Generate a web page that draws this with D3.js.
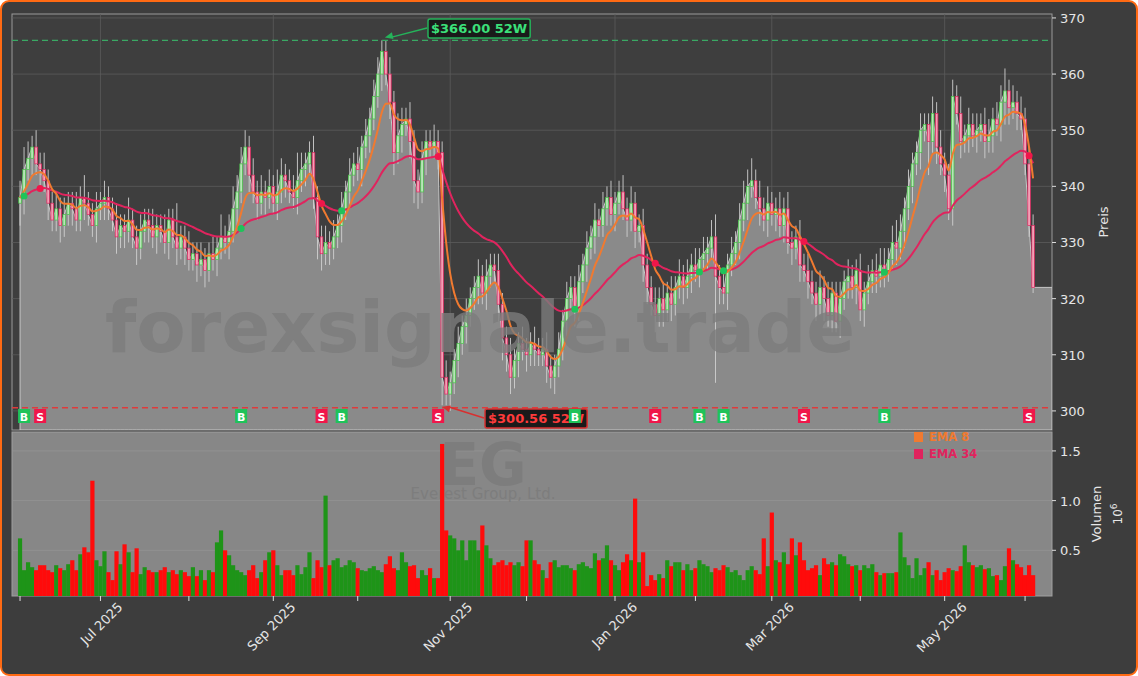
<!DOCTYPE html>
<html><head><meta charset="utf-8">
<script src="https://cdn.jsdelivr.net/npm/d3@7"></script>
<style>
body{margin:0;background:#fff;font-family:"DejaVu Sans",sans-serif;}
svg{display:block;}
</style></head>
<body>
<script>
const width = 1138, height = 676;

// daily closes, Jun 2 2025 .. end of May 2026
const closes = [338,343,345,347,344,343,341,337,334,336,333,335,337,336,334,338,337,335,333,336,337,
338,336,334,331,333,332,334,331,329,332,334,333,331,333,332,330,334,331,329,331,
329,327,328,326,327,325,328,327,329,331,330,332,336,339,344,347,342,339,337,339,
338,340,337,339,342,341,339,338,341,343,344,346,338,331,328,330,329,331,333,336,
339,342,344,343,347,349,352,356,360,364,360,355,346,349,351,352,348,341,339,345,
348,347,348,346,306,303,305,309,312,315,317,320,322,324,321,324,326,325,319,313,
310,306,309,312,311,310,312,311,310,311,308,306,308,311,316,320,322,318,323,326,
329,331,334,333,336,338,335,337,339,336,334,337,332,333,326,322,319,317,320,318,
321,319,322,324,322,324,326,325,327,328,329,331,324,322,321,326,328,330,334,337,
340,341,338,336,334,337,335,336,333,336,330,329,331,326,325,323,321,319,322,320,
317,321,316,320,323,324,322,325,318,321,323,325,324,326,325,327,330,329,332,336,
340,344,346,350,351,348,353,347,344,342,336,356,353,348,349,351,349,350,351,348,
349,352,351,355,357,354,355,353,352,344,333,322];
// wick extension above / below the candle body
const wickUp = [3,4,3,2,3,2,3,2,2,3,2,3,2,2,3,2,4,2,2,3,2,3,2,2,3,2,2,4,2,2,3,2,2,3,2,2,3,2,2,6,2,
2,3,2,2,3,2,2,3,2,4,2,3,4,3,3,3,2,3,2,3,2,3,2,4,3,2,2,3,5,3,2,2,3,2,2,3,2,3,2,3,
2,3,2,3,2,3,2,3,3,2,2,3,2,4,3,2,3,2,2,3,2,2,3,2,2,3,2,2,3,2,3,2,2,3,2,3,2,2,3,2,
2,3,2,2,3,2,2,3,2,2,3,2,2,3,2,3,2,2,3,2,3,2,3,2,3,2,3,2,2,3,2,3,2,2,3,2,2,3,2,3,
2,3,2,3,2,3,2,3,2,3,2,3,4,2,3,2,3,2,3,4,3,4,2,3,2,3,2,2,3,2,3,2,2,3,2,3,2,2,3,2,
3,2,2,3,2,3,2,2,3,2,3,2,3,3,3,2,3,4,3,2,3,2,2,3,2,2,3,2,3,2,2,3,2,3,2,3,2,3,2,
3,3,2,3,3,4,2,3,2,3,2,3,2];
const wickDn = [4,3,2,3,2,3,2,3,2,2,3,2,2,3,2,2,3,2,2,3,2,3,2,2,3,2,3,2,2,3,2,2,3,2,3,2,2,3,2,3,2,
3,2,2,3,2,3,2,2,3,2,2,3,2,3,2,2,3,2,3,2,3,2,2,3,2,3,2,2,3,2,3,2,2,4,3,2,3,2,2,3,
2,3,2,2,3,2,3,2,2,3,2,3,4,2,3,2,3,4,3,2,3,2,2,3,5,2,3,2,3,2,3,2,2,3,2,3,2,2,3,4,
3,3,2,3,2,3,2,3,2,2,3,2,3,2,2,3,2,3,2,2,3,2,3,2,2,3,2,3,2,2,3,2,3,2,3,3,2,3,2,3,
2,3,2,2,3,2,3,2,3,2,3,2,19,3,2,3,2,2,3,2,3,2,2,3,2,3,2,3,2,3,2,3,2,3,2,3,2,3,2,4,
2,3,2,3,2,3,2,3,2,3,2,2,3,2,3,2,2,3,2,3,2,3,2,3,2,6,2,3,2,3,2,3,2,3,2,3,2,3,2,
3,2,3,2,3,4,3,2,3,2,2,2,1];
// volume in millions
const volumes = [0.62,0.30,0.38,0.33,0.30,0.35,0.35,0.30,0.28,0.35,0.32,0.30,0.36,0.40,0.30,0.46,0.53,0.48,1.20,0.40,0.34,
0.49,0.28,0.20,0.49,0.36,0.56,0.48,0.28,0.52,0.26,0.33,0.30,0.28,0.28,0.30,0.33,0.28,0.30,0.26,0.30,
0.28,0.24,0.33,0.24,0.30,0.20,0.30,0.28,0.58,0.70,0.50,0.45,0.35,0.30,0.28,0.25,0.30,0.35,0.22,0.28,
0.40,0.48,0.50,0.35,0.25,0.30,0.30,0.25,0.35,0.26,0.33,0.48,0.22,0.40,0.33,1.05,0.35,0.40,0.42,0.33,
0.35,0.40,0.38,0.32,0.30,0.29,0.32,0.34,0.30,0.28,0.36,0.44,0.32,0.30,0.48,0.38,0.34,0.35,0.22,0.30,
0.25,0.32,0.22,0.22,1.57,0.70,0.65,0.62,0.50,0.60,0.40,0.60,0.60,0.50,0.75,0.55,0.42,0.35,0.38,0.40,
0.35,0.38,0.35,0.38,0.34,0.60,0.60,0.40,0.36,0.30,0.22,0.38,0.40,0.33,0.35,0.35,0.32,0.30,0.36,0.38,
0.34,0.32,0.47,0.40,0.42,0.55,0.40,0.35,0.30,0.38,0.46,0.40,1.02,0.38,0.48,0.14,0.25,0.20,0.26,0.22,
0.40,0.34,0.38,0.38,0.30,0.36,0.30,0.32,0.40,0.36,0.34,0.28,0.32,0.30,0.35,0.33,0.28,0.30,0.25,0.20,
0.30,0.34,0.30,0.26,0.62,0.34,0.88,0.40,0.38,0.48,0.36,0.62,0.45,0.58,0.40,0.30,0.32,0.35,0.25,0.42,
0.36,0.38,0.35,0.46,0.44,0.36,0.34,0.35,0.30,0.35,0.32,0.36,0.28,0.25,0.27,0.27,0.27,0.28,0.68,0.43,
0.35,0.22,0.42,0.25,0.32,0.38,0.25,0.30,0.20,0.28,0.32,0.30,0.29,0.34,0.55,0.38,0.35,0.33,0.35,0.31,
0.32,0.24,0.25,0.20,0.34,0.52,0.40,0.36,0.33,0.25,0.35,0.25,0.37,0.35,0.30,0.33,0.36,0.36,0.24,0.36,
0.20,0.22,0.24,0.38,0.40];
const signals = [[1,"B"],[5,"S"],[55,"B"],[75,"S"],[80,"B"],[104,"S"],[138,"B"],[158,"S"],
  [169,"B"],[175,"B"],[195,"S"],[215,"B"],[251,"S"]];
const high52 = 366.00, low52 = 300.56;
const priceTicks = [300,310,320,330,340,350,360,370];
const volTicks = [0.5,1.0,1.5];
const monthNames = ["Jan","Feb","Mar","Apr","May","Jun","Jul","Aug","Sep","Oct","Nov","Dec"];
const holidays = ["2025-06-19","2025-07-04","2025-09-01","2025-11-27","2025-12-25","2026-01-01",
  "2026-01-19","2026-02-16","2026-04-03","2026-05-25"];

// trading calendar
const dates = [];
for (let d = new Date(2025,5,2); dates.length < closes.length; d.setDate(d.getDate()+1)) {
  const wd = d.getDay();
  if (wd === 0 || wd === 6) continue;
  if (holidays.includes(d3.timeFormat("%Y-%m-%d")(d))) continue;
  dates.push(new Date(d));
}

const bars = closes.map((c,i) => {
  const o = i === 0 ? c - 1 : closes[i-1];
  return {i, o, c, h: Math.max(o,c) + wickUp[i], l: Math.min(o,c) - wickDn[i], v: volumes[i]};
});
function ema(n) {
  const k = 2/(n+1); let e = closes[0];
  return closes.map(c => (e = c*k + e*(1-k)));
}
const ema8 = ema(8), ema34 = ema(34);

const svg = d3.select("body").append("svg").attr("width", width).attr("height", height);
svg.append("rect").attr("x",1).attr("y",1).attr("width",width-2).attr("height",height-2)
  .attr("rx",8).attr("fill","#3d3d3d").attr("stroke","#ff6a13").attr("stroke-width",2);

const L = 12, R = 1052, pTop = 14, pBot = 430, vTop = 432, vBot = 596;
const x = d3.scaleLinear().domain([-2, 256.7]).range([L, R]);
const y = d3.scaleLinear().domain([296.6, 370.7]).range([pBot, pTop]);
const yv = d3.scaleLinear().domain([0, 1.65]).range([600, 436]);

svg.append("defs").append("clipPath").attr("id","pc").append("rect")
  .attr("x",L).attr("y",pTop).attr("width",R-L).attr("height",pBot-pTop);

// price panel
svg.append("rect").attr("x",L).attr("y",pTop).attr("width",R-L).attr("height",pBot-pTop)
  .attr("fill","#3e3e3e").attr("stroke","#9a9a9a");
const monthStarts = dates.map((d,i)=>[d,i]).filter(([d,i]) => i === 0 || d.getMonth() !== dates[i-1].getMonth());
const grid = svg.append("g").attr("stroke","#5c5c5c").attr("stroke-width",0.8);
priceTicks.forEach(t => grid.append("line").attr("x1",L).attr("x2",R).attr("y1",y(t)).attr("y2",y(t)));
monthStarts.filter((m,k)=>k%2===1).forEach(([d,i]) => grid.append("line").attr("x1",x(i)).attr("x2",x(i)).attr("y1",pTop).attr("y2",pBot));

const pg = svg.append("g").attr("clip-path","url(#pc)");
const areaData = bars.map(b => [x(b.i), b.c]).concat([[R, closes[closes.length-1]]]);
pg.append("path").datum(areaData)
  .attr("d", d3.area().x(d=>d[0]).y0(pBot).y1(d=>y(d[1])))
  .attr("fill","#8a8a8a").attr("stroke","#c8c8c8").attr("stroke-width",1);

svg.append("text").attr("x",480).attr("y",352).attr("text-anchor","middle")
  .attr("font-size",72).attr("font-weight","bold").attr("fill","#7c7c7c").attr("fill-opacity",0.8)
  .text("forexsignale.trade");

pg.selectAll(".wick").data(bars).join("line")
  .attr("x1",d=>x(d.i)).attr("x2",d=>x(d.i)).attr("y1",d=>y(d.h)).attr("y2",d=>y(d.l))
  .attr("stroke","#d0d0d0").attr("stroke-width",0.9);
pg.selectAll(".body").data(bars).join("rect")
  .attr("x",d=>x(d.i)-1.3).attr("width",2.6)
  .attr("y",d=>y(Math.max(d.o,d.c))).attr("height",d=>Math.max(1,Math.abs(y(d.o)-y(d.c))))
  .attr("fill",d=>d.c>=d.o?"#b8e6b8":"#f3a0b6").attr("stroke",d=>d.c>=d.o?"#45c045":"#e0245e").attr("stroke-width",0.7);

const line = d3.line().x((d,i)=>x(i)).y(d=>y(d)).curve(d3.curveMonotoneX);
pg.append("path").datum(ema34).attr("d",line).attr("fill","none").attr("stroke","#e0245e").attr("stroke-width",2);
pg.append("path").datum(ema8).attr("d",line).attr("fill","none").attr("stroke","#f07a30").attr("stroke-width",2);

pg.selectAll(".sig").data(signals).join("circle")
  .attr("cx",d=>x(d[0])).attr("cy",d=>y(ema34[d[0]])).attr("r",3.5)
  .attr("fill",d=>d[1]==="B"?"#1fc35a":"#f0164a");

// 52 week lines
svg.append("line").attr("x1",L).attr("x2",R).attr("y1",y(high52)).attr("y2",y(high52))
  .attr("stroke","#3aa864").attr("stroke-width",1.4).attr("stroke-dasharray","6,4");
svg.append("line").attr("x1",L).attr("x2",R).attr("y1",y(low52)).attr("y2",y(low52))
  .attr("stroke","#e03a3a").attr("stroke-width",1.4).attr("stroke-dasharray","6,4");

const hiIdx = 90, loIdx = 104;
function callout(tx, ty, ax, ay, txt, col, fg) {
  svg.append("line").attr("x1",tx).attr("y1",ty).attr("x2",ax+6).attr("y2",ay).attr("stroke",col).attr("stroke-width",1.5);
  const ang = Math.atan2(ay-ty, ax-tx);
  svg.append("path").attr("d","M0,0L-8,-3.5L-8,3.5Z").attr("fill",col)
    .attr("transform",`translate(${ax},${ay}) rotate(${ang*180/Math.PI})`);
  const g = svg.append("g");
  const t = g.append("text").attr("x",tx+4).attr("y",ty+5).attr("font-size",13).attr("font-weight","bold")
    .attr("fill",fg).text(txt);
  const bb = t.node().getBBox();
  g.insert("rect","text").attr("x",bb.x-3).attr("y",bb.y-2).attr("width",bb.width+6).attr("height",bb.height+4)
    .attr("rx",2).attr("fill","#1a1a1a").attr("stroke",col).attr("stroke-width",1.5);
}
callout(427, 28, x(hiIdx)+3, y(high52)-3, "$366.00 52W", "#25b35a", "#3ce07a");
callout(484, 418, x(loIdx)+4, y(low52)-1, "$300.56 52W", "#d83030", "#ff3b3b");

// signal markers
const sm = svg.selectAll(".sm").data(signals).join("g")
  .attr("transform",d=>`translate(${x(d[0])},416)`);
sm.append("rect").attr("x",-6).attr("y",-7).attr("width",12).attr("height",14)
  .attr("fill",d=>d[1]==="B"?"#1fc35a":"#f0164a");
sm.append("text").attr("y",4.5).attr("text-anchor","middle").attr("font-size",11).attr("font-weight","bold")
  .attr("fill","#fff").text(d=>d[1]);

// price axis
const pa = svg.append("g").attr("transform",`translate(${R},0)`);
priceTicks.forEach(t => {
  pa.append("line").attr("x1",0).attr("x2",4).attr("y1",y(t)).attr("y2",y(t)).attr("stroke","#ddd");
  pa.append("text").attr("x",8).attr("y",y(t)+5).attr("font-size",13).attr("fill","#e6e6e6").text(t);
});
svg.append("text").attr("transform","translate(1108,222) rotate(-90)").attr("text-anchor","middle")
  .attr("font-size",13).attr("fill","#e6e6e6").text("Preis");

// volume panel
svg.append("rect").attr("x",L).attr("y",vTop).attr("width",R-L).attr("height",vBot-vTop)
  .attr("fill","#878787").attr("stroke","#a0a0a0");
const vg = svg.append("g").attr("stroke","#949494").attr("stroke-width",0.8);
volTicks.forEach(t => vg.append("line").attr("x1",L).attr("x2",R).attr("y1",yv(t)).attr("y2",yv(t)));
svg.append("text").attr("x",483).attr("y",485).attr("text-anchor","middle").attr("font-size",58)
  .attr("font-weight","bold").attr("fill","#7d7d7d").text("EG");
svg.append("text").attr("x",483).attr("y",499).attr("text-anchor","middle").attr("font-size",15)
  .attr("fill","#7d7d7d").text("Everest Group, Ltd.");
svg.append("g").selectAll("rect").data(bars).join("rect")
  .attr("x",d=>x(d.i)-2.1).attr("width",4.2)
  .attr("y",d=>yv(d.v)).attr("height",d=>vBot-yv(d.v))
  .attr("fill",d=>d.c>=d.o?"#1e9418":"#ff0b0b");
const va = svg.append("g").attr("transform",`translate(${R},0)`);
volTicks.forEach(t => {
  va.append("line").attr("x1",0).attr("x2",4).attr("y1",yv(t)).attr("y2",yv(t)).attr("stroke","#ddd");
  va.append("text").attr("x",8).attr("y",yv(t)+5).attr("font-size",13).attr("fill","#e6e6e6").text(t.toFixed(1));
});
svg.append("text").attr("transform","translate(1101,514) rotate(-90)").attr("text-anchor","middle")
  .attr("font-size",13).attr("fill","#e6e6e6").text("Volumen");
const ex = svg.append("text").attr("transform","translate(1122,514) rotate(-90)").attr("text-anchor","middle")
  .attr("font-size",12).attr("fill","#e6e6e6");
ex.append("tspan").text("10");
ex.append("tspan").attr("dy",-5).attr("font-size",9).text("6");

// legend
[["EMA 8","#f07a30",441],["EMA 34","#e0245e",458]].forEach(([t,c,yy]) => {
  svg.append("rect").attr("x",914).attr("y",yy-9).attr("width",9).attr("height",10).attr("fill",c);
  svg.append("text").attr("x",929).attr("y",yy).attr("font-size",11.5).attr("font-weight","bold").attr("fill",c).text(t);
});

// date axis
const xa = svg.append("g");
monthStarts.forEach(([d,i],k) => {
  xa.append("line").attr("x1",x(i)).attr("x2",x(i)).attr("y1",vBot).attr("y2",vBot+5).attr("stroke","#ddd");
  if (k%2===1) {
    xa.append("text").attr("transform",`translate(${x(i)+23},${vBot+12}) rotate(-45)`).attr("text-anchor","end")
      .attr("font-size",13).attr("fill","#e6e6e6").text(monthNames[d.getMonth()]+" "+d.getFullYear());
  }
});
</script>
</body></html>
